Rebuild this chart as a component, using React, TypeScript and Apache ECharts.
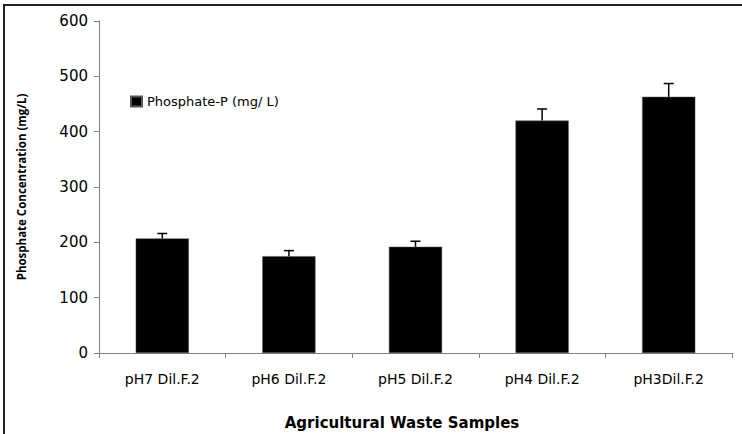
import React, { useEffect, useRef } from "react";
import * as echarts from "echarts";

const categories = ["pH7 Dil.F.2", "pH6 Dil.F.2", "pH5 Dil.F.2", "pH4 Dil.F.2", "pH3Dil.F.2"];
const phosphateValues = [207, 175, 192, 420, 463];
const phosphateErrors = [9, 10, 10, 21, 24];
const yTicks = { min: 0, max: 600, interval: 100 };
const seriesName = "Phosphate-P (mg/ L)";
const yTitle = "Phosphate Concentration (mg/L)";
const xTitle = "Agricultural Waste Samples";

export default function App() {
  const ref = useRef<HTMLDivElement>(null);
  useEffect(() => {
    if (!ref.current) return;
    const chart = echarts.init(ref.current, null, { renderer: "svg" });
    const axisColor = "#7f7f7f";
    chart.setOption({
      animation: false,
      backgroundColor: "#ffffff",
      grid: { left: 99, right: 10, top: 21, bottom: 81, containLabel: false },
      legend: {
        data: [{ name: seriesName, icon: "rect" }],
        left: 125,
        top: 90,
        itemWidth: 11,
        itemHeight: 10,
        itemGap: 4,
        textStyle: { fontFamily: "DejaVu Sans", fontSize: 13, color: "#000" },
      },
      xAxis: {
        type: "category",
        data: categories,
        axisLine: { lineStyle: { color: axisColor, width: 1 } },
        axisTick: { show: true, length: 5, lineStyle: { color: axisColor } },
        axisLabel: { margin: 19, fontFamily: "DejaVu Sans", fontSize: 14, color: "#000" },
        splitLine: { show: false },
      },
      yAxis: {
        type: "value",
        min: yTicks.min,
        max: yTicks.max,
        interval: yTicks.interval,
        name: yTitle,
        nameLocation: "middle",
        nameGap: 72,
        nameTextStyle: { fontFamily: "Open Sans", fontWeight: "bold", fontSize: 11.5, color: "#000" },
        axisLine: { show: true, lineStyle: { color: axisColor, width: 1 } },
        axisTick: { show: true, length: 5, lineStyle: { color: axisColor } },
        axisLabel: { margin: 11, fontFamily: "DejaVu Sans", fontSize: 15, color: "#000" },
        splitLine: { show: false },
      },
      graphic: [
        {
          type: "line",
          shape: { x1: 3, y1: 5, x2: 742, y2: 5 },
          style: { stroke: "#222", lineWidth: 2 },
        },
        {
          type: "line",
          shape: { x1: 4, y1: 4, x2: 4, y2: 434 },
          style: { stroke: "#222", lineWidth: 2 },
        },
        {
          type: "text",
          x: 402,
          y: 423,
          style: {
            text: xTitle,
            fontFamily: "DejaVu Sans",
            fontWeight: "bold",
            fontSize: 15,
            fill: "#000",
            textAlign: "center",
            textVerticalAlign: "middle",
          },
        },
      ],
      series: [
        {
          name: seriesName,
          type: "bar",
          data: phosphateValues,
          barWidth: "42%",
          itemStyle: { color: "#000", borderColor: "#555", borderWidth: 0.5 },
        },
        {
          name: "error",
          type: "custom",
          data: categories.map((c, i) => [i, phosphateValues[i], phosphateErrors[i]]),
          encode: { x: 0, y: 1 },
          z: 3,
          renderItem: (params: any, api: any) => {
            const idx = api.value(0);
            const v = api.value(1);
            const e = api.value(2);
            const base = api.coord([idx, v]);
            const top = api.coord([idx, v + e]);
            const half = 5;
            return {
              type: "group",
              children: [
                {
                  type: "line",
                  shape: { x1: base[0], y1: base[1], x2: top[0], y2: top[1] },
                  style: { stroke: "#000", lineWidth: 1.5 },
                },
                {
                  type: "line",
                  shape: { x1: top[0] - half, y1: top[1], x2: top[0] + half, y2: top[1] },
                  style: { stroke: "#000", lineWidth: 1.5 },
                },
              ],
            };
          },
        },
      ],
    });
    return () => chart.dispose();
  }, []);
  return (
    <div
      ref={ref}
      style={{ position: "fixed", left: 0, top: 0, width: 742, height: 434, background: "#fff" }}
    />
  );
}
